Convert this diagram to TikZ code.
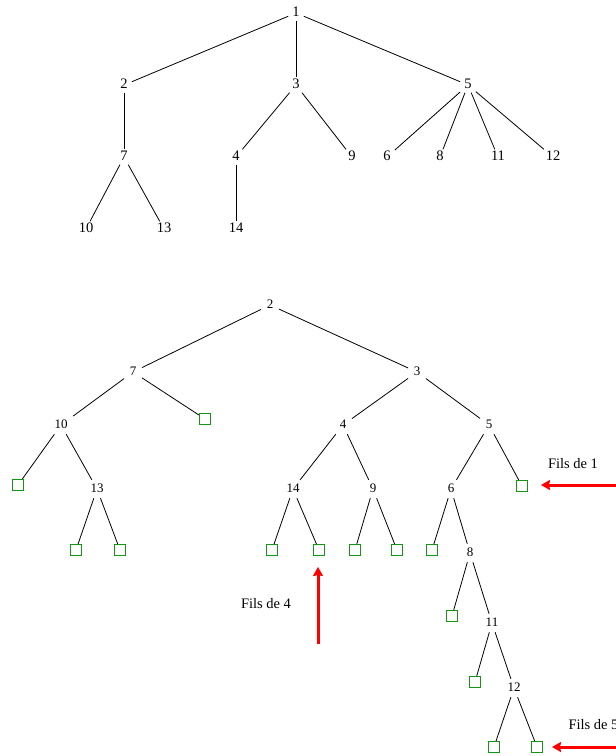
\documentclass[tikz,border=0pt]{standalone}
\usepackage{fontspec}
\setmainfont{Liberation Serif}
\usetikzlibrary{arrows.meta}
\definecolor{leafgreen}{RGB}{20,150,20}
\begin{document}
\begin{tikzpicture}[x=1pt,y=-1pt,
  tn/.style={font=\fontsize{14.5}{16}\selectfont, inner sep=4pt, text height=0.7em, text depth=0pt},
  bn/.style={font=\fontsize{13}{15}\selectfont, inner sep=5.5pt, text height=0.7em, text depth=0pt},
  leaf/.style={draw=leafgreen, line width=1pt, minimum size=11pt, inner sep=0pt},
  edge/.style={draw=black, line width=0.8pt},
  lbl/.style={font=\fontsize{14.5}{16}\selectfont},
  redarrow/.style={draw=red, line width=3pt, -{Stealth[length=9pt,width=10pt,inset=1pt]}}]
\useasboundingbox (0,0) rectangle (616,756);
% ---------- top tree ----------
\node[tn] (t1) at (296,13) {1};
\node[tn] (t2) at (124,85) {2};
\node[tn] (t3) at (296,85) {3};
\node[tn] (t5) at (468,85) {5};
\node[tn] (t7) at (124,157) {7};
\node[tn] (t4) at (236,157) {4};
\node[tn] (t9) at (352,157) {9};
\node[tn] (t6) at (387,157) {6};
\node[tn] (t8) at (440,157) {8};
\node[tn] (t11) at (498,157) {11};
\node[tn] (t12) at (553,157) {12};
\node[tn] (t10) at (86,229) {10};
\node[tn] (t13) at (164,229) {13};
\node[tn] (t14) at (236,229) {14};
\foreach \a/\b in {t1/t2,t1/t3,t1/t5,t2/t7,t3/t4,t3/t9,t5/t6,t5/t8,t5/t11,t5/t12,t7/t10,t7/t13,t4/t14}
  \draw[edge] (\a) -- (\b);
% ---------- bottom tree ----------
\node[bn] (b2) at (270,305) {2};
\node[bn] (b7) at (133,372) {7};
\node[bn] (b3) at (417,372) {3};
\node[bn] (b10) at (61,425) {10};
\node[bn] (b4) at (343,425) {4};
\node[bn] (b5) at (489,425) {5};
\node[bn] (b13) at (97,489) {13};
\node[bn] (b14) at (293,489) {14};
\node[bn] (b9) at (373,489) {9};
\node[bn] (b6) at (451,489) {6};
\node[bn] (b8) at (470,553) {8};
\node[bn] (b11) at (492,623) {11};
\node[bn] (b12) at (514,688) {12};
\node[leaf] (s7) at (205,419) {};
\node[leaf] (s10) at (18,485) {};
\node[leaf] (s13a) at (76,550) {};
\node[leaf] (s13b) at (120,550) {};
\node[leaf] (s14a) at (272,550) {};
\node[leaf] (s14b) at (319,550) {};
\node[leaf] (s9a) at (355,550) {};
\node[leaf] (s9b) at (397,550) {};
\node[leaf] (s5) at (522,486) {};
\node[leaf] (s6) at (432,550) {};
\node[leaf] (s8) at (452,616) {};
\node[leaf] (s11) at (475,682) {};
\node[leaf] (s12a) at (494,747) {};
\node[leaf] (s12b) at (537,747) {};
\foreach \a/\b in {b2/b7,b2/b3,b7/b10,b7/s7,b10/s10,b10/b13,b13/s13a,b13/s13b,b3/b4,b3/b5,b4/b14,b4/b9,b14/s14a,b14/s14b,b9/s9a,b9/s9b,b5/b6,b5/s5,b6/s6,b6/b8,b8/s8,b8/b11,b11/s11,b11/b12,b12/s12a,b12/s12b}
  \draw[edge] (\a) -- (\b);
% ---------- labels and arrows ----------
\node[lbl] (f1) at (573,464) {Fils de 1};
\node[lbl] (f4) at (266,604) {Fils de 4};
\node[lbl, anchor=west] (f5) at (565,725) {Fils de 5};
\coordinate (a1s) at (616,485);
\coordinate (a1e) at (541,485);
\coordinate (a4s) at (318,644);
\coordinate (a4e) at (318,567);
\coordinate (a5s) at (616,747);
\coordinate (a5e) at (552,747);
\draw[redarrow] (a1s) -- (a1e);
\draw[redarrow] (a4s) -- (a4e);
\draw[redarrow] (a5s) -- (a5e);
\end{tikzpicture}
\end{document}
